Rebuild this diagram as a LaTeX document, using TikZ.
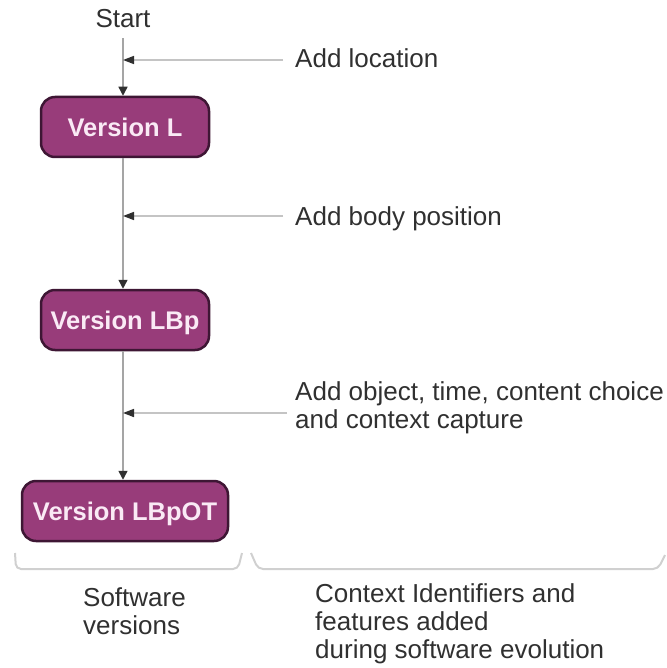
\documentclass[tikz,border=0pt]{standalone}
\usepackage{fontspec}
\setmainfont{Liberation Sans}
\usetikzlibrary{arrows.meta}

\definecolor{boxfill}{RGB}{152,60,122}
\definecolor{boxedge}{RGB}{62,22,52}
\definecolor{boxtext}{RGB}{250,234,245}
\definecolor{ink}{RGB}{48,48,48}
\definecolor{wire}{RGB}{165,165,165}
\definecolor{feedline}{RGB}{196,196,196}
\definecolor{bracketline}{RGB}{208,208,208}

\begin{document}
\begin{tikzpicture}[x=1pt,y=-1pt,
  version/.style={draw=boxedge, line width=2.5pt, fill=boxfill,
    rounded corners=14pt, text=boxtext,
    font=\fontsize{25.5}{30}\selectfont\bfseries,
    minimum height=60pt, inner sep=0pt, text height=18.5pt, text depth=0pt},
  note/.style={text=ink, font=\fontsize{26}{28}\selectfont,
    inner sep=0pt, align=left},
  flow/.style={draw=wire, line width=1.4pt,
    -{Triangle[length=9pt,width=9pt,color=ink]}},
  feed/.style={draw=feedline, line width=1.6pt,
    -{Triangle[length=11pt,width=8pt,color=ink]}},
  bracket/.style={draw=bracketline, line width=2pt, rounded corners=5pt}
]
\useasboundingbox (0,0) rectangle (666,668);

% software versions down the left column
\node[note, anchor=base] (start) at (123,28) {Start};
\node[version, minimum width=168pt] (L) at (125,127) {Version L};
\node[version, minimum width=168pt] (LBp) at (125,320) {Version LBp};
\node[version, minimum width=206pt] (LBpOT) at (125,511) {Version LBpOT};

% evolution path
\draw[flow, shorten <=10pt] (start.south) -- (start.south |- L.north);
\draw[flow] (L.south -| start.south) -- (start.south |- LBp.north);
\draw[flow] (LBp.south -| start.south) -- (start.south |- LBpOT.north);

% features feeding into the path
\coordinate (f1) at (283,60);
\coordinate (j1) at (start.south |- f1);
\coordinate (f2) at (283,216);
\coordinate (j2) at (start.south |- f2);
\coordinate (f3) at (287,413);
\coordinate (j3) at (start.south |- f3);
\draw[feed] (f1) -- (j1);
\draw[feed] (f2) -- (j2);
\draw[feed] (f3) -- (j3);

% (multi-line notes are placed by the baseline of their last line)
\node[note, anchor=base west] (t1) at (295,68) {Add location};
\node[note, anchor=base west] (t2) at (295,225) {Add body position};
\node[note, anchor=base west] (t3) at (295,428)
  {Add object, time, content choice\\and context capture};

% grouping brackets and captions
\draw[bracket] (15,553) -- (16,569) -- (238,569) -- (242,553);
\draw[bracket] (251,553) -- (258,569) -- (658,569) -- (665,555);

\node[note, anchor=base west] (sw) at (83,634) {Software\\versions};
\node[note, anchor=base west] (ci) at (315,658)
  {Context Identifiers and\\features added\\during software evolution};
\end{tikzpicture}
\end{document}
